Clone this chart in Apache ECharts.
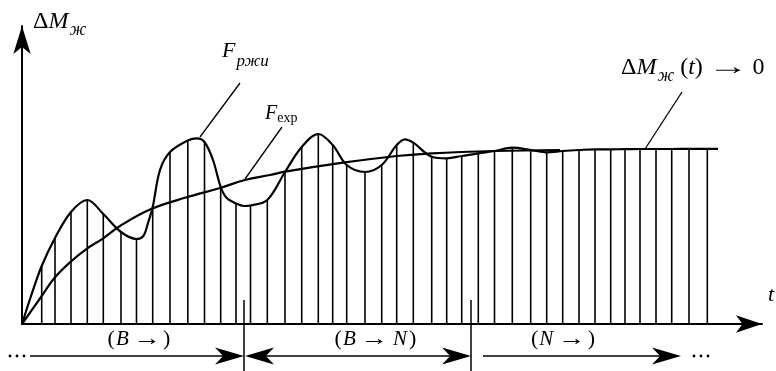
<!DOCTYPE html>
<html>
<head>
<meta charset="utf-8">
<script src="https://cdn.jsdelivr.net/npm/echarts@6/dist/echarts.min.js"></script>
<style>
  html, body { margin: 0; padding: 0; background: #fff; }
  #c { width: 776px; height: 371px; }
</style>
</head>
<body>
<div id="c"></div>
<script>
// Sampling instants (t) and the ripple curve F_ржи value at each sampling stroke
const stripT = [19.7, 33, 49, 65.3, 81.3, 99, 114.5, 130.7, 148, 165.8, 182.5, 198.7, 214, 228.5,
  245.3, 263, 279.7, 296.3, 310.7, 324.7, 343, 359.7, 374.7, 391.3, 409.7, 424.7, 439.7, 456.3,
  472.5, 490.3, 508.7, 524.7, 540.7, 557, 573, 588.7, 603, 618, 634, 649.7, 667, 685.3];
const stripF = [58, 86, 112, 124, 110, 92, 85, 117, 172, 183.5, 182, 137, 120.5, 118.5,
  124, 152, 177, 190, 179, 159, 152, 159, 179, 181.3, 167.3, 165.7, 168, 170.7,
  173, 176.3, 174, 171.7, 173, 174, 174.7, 174.7, 174.8, 175, 175, 175, 175.2, 175.2];

// Extra knots of F_ржи between strokes: start, crests, troughs and end
const rippleExtraT = [0, 9.7, 121.3, 126, 138, 174.7, 191, 204.7, 222, 383, 696];
const rippleExtraF = [0, 30, 88, 101, 154, 185.7, 164, 126, 118, 184.7, 175.2];

// Exponential envelope F_exp
const expT = [0, 19.7, 33, 48.7, 65.3, 81.3, 98, 128, 164.7, 198, 223, 248, 263, 321, 374.7, 409.7, 473, 538];
const expF = [0, 28, 46.7, 62.3, 75.7, 85.7, 98, 114.5, 126.7, 136, 144, 149, 152.3, 161.3, 168, 170.7, 173, 174];

// Phase boundaries on the time axis and the phase captions
const phaseBounds = [222, 449];
const phaseLabels = [['B', ''], ['B', 'N'], ['N', '']];

// Leader lines from the curve labels to the curves
const leaderRipple = [[178, 187], [218, 241]];
const leaderExp = [[223, 145], [260, 197]];
const leaderLimit = [[623, 175], [660, 232]];

const INK = '#000';
const SERIF = '"Liberation Serif", "DejaVu Serif", serif';

function zip(a, b) { return a.map((v, i) => [v, b[i]]); }

const rippleData = zip(stripT, stripF).concat(zip(rippleExtraT, rippleExtraF))
  .sort((p, q) => p[0] - q[0]);
const strokeData = zip(stripT, stripF);

const chart = echarts.init(document.getElementById('c'), null, { renderer: 'canvas' });

function leader(data) {
  return { type: 'line', data: data, symbol: 'none', silent: true,
    lineStyle: { color: INK, width: 1.3 }, z: 4 };
}

chart.setOption({
  animation: false,
  backgroundColor: '#fff',
  grid: { left: 22, right: 14, top: 26, bottom: 47, containLabel: false },
  xAxis: {
    type: 'value', min: 0, max: 740,
    axisLine: { show: true, onZero: false, symbol: ['none', 'arrow'], symbolSize: [13, 26],
      lineStyle: { color: '#000', width: 2 } },
    axisTick: { show: false }, axisLabel: { show: false }, splitLine: { show: false }
  },
  yAxis: {
    type: 'value', min: 0, max: 298,
    axisLine: { show: true, onZero: false, symbol: ['none', 'arrow'], symbolSize: [13, 28],
      lineStyle: { color: '#000', width: 2 } },
    axisTick: { show: false }, axisLabel: { show: false }, splitLine: { show: false }
  },
  series: [
    {
      // sampling strokes from the time axis up to F_ржи
      type: 'custom',
      data: strokeData,
      silent: true,
      z: 2,
      renderItem: function (params, api) {
        const p0 = api.coord([api.value(0), 0]);
        const p1 = api.coord([api.value(0), api.value(1)]);
        return { type: 'line', shape: { x1: p0[0], y1: p0[1], x2: p1[0], y2: p1[1] },
          style: { stroke: INK, lineWidth: 1.6 } };
      }
    },
    {
      type: 'line', name: 'F_ржи', data: rippleData, smooth: 0.35, symbol: 'none',
      silent: true, lineStyle: { color: INK, width: 2.2 }, z: 3
    },
    {
      type: 'line', name: 'F_exp', data: zip(expT, expF), smooth: 0.4, symbol: 'none',
      silent: true, lineStyle: { color: INK, width: 2.2 }, z: 3
    },
    leader(leaderRipple),
    leader(leaderExp),
    leader(leaderLimit)
  ]
});

// ---- annotations: axis titles, curve labels and the phase arrows ----
const measureCtx = document.createElement('canvas').getContext('2d');
function fontOf(p) {
  return (p.it ? 'italic ' : '') + p.size + 'px ' + SERIF;
}
// Lays out a run of text pieces on a common baseline, left to right.
// Piece fields: t text, size, it italic, dy baseline shift, gap space before, sx horizontal stretch.
function run(x, baseline, pieces, out) {
  let cx = x;
  pieces.forEach(p => {
    cx += p.gap || 0;
    measureCtx.font = fontOf(p);
    const w = measureCtx.measureText(p.t).width * (p.sx || 1);
    out.push({ type: 'text', x: cx, y: baseline + (p.dy || 0) - 0.32 * p.size,
      scaleX: p.sx || 1, silent: true, z: 10,
      style: { text: p.t, fontFamily: SERIF, fontSize: p.size,
        fontStyle: p.it ? 'italic' : 'normal', fill: INK, align: 'left', verticalAlign: 'middle' } });
    cx += w;
  });
  return cx - x;
}
function runWidth(pieces) {
  let w = 0;
  pieces.forEach(p => {
    measureCtx.font = fontOf(p);
    w += (p.gap || 0) + measureCtx.measureText(p.t).width * (p.sx || 1);
  });
  return w;
}
function head(tipX, y, dir) {
  const L = 29, W = 17;
  return { type: 'polygon', silent: true, z: 10,
    shape: { points: [[tipX, y], [tipX - dir * L, y - W / 2], [tipX - dir * 0.72 * L, y], [tipX - dir * L, y + W / 2]] },
    style: { fill: '#000' } };
}
function seg(x1, y1, x2, y2, w) {
  return { type: 'line', silent: true, z: 10,
    shape: { x1: x1, y1: y1, x2: x2, y2: y2 }, style: { stroke: '#000', lineWidth: w || 1.7 } };
}
function dots(x0, y, out) {
  for (let k = 0; k < 3; k++) {
    out.push({ type: 'circle', silent: true, z: 10, shape: { cx: x0 + k * 7, cy: y, r: 1.4 },
      style: { fill: '#000' } });
  }
}

const toPx = t => chart.convertToPixel({ gridIndex: 0 }, [t, 0])[0];
const b1 = toPx(phaseBounds[0]);
const b2 = toPx(phaseBounds[1]);
const arrowY = 356;
const labelBase = 352;
const g = [];

// axis titles
run(33, 29, [{ t: 'Δ', size: 24 }, { t: 'M', size: 24, it: true },
  { t: 'ж', size: 18, it: true, dy: 7, gap: 1 }], g);
run(768, 302, [{ t: 't', size: 22, it: true }], g);

// curve labels
run(222, 58, [{ t: 'F', size: 22, it: true }, { t: 'ржи', size: 17, it: true, dy: 9, gap: 1 }], g);
run(265, 120, [{ t: 'F', size: 20, it: true }, { t: 'exp', size: 14, dy: 3, gap: 0 }], g);
run(621, 75, [{ t: 'Δ', size: 24 }, { t: 'M', size: 24, it: true },
  { t: 'ж', size: 18, it: true, dy: 7, gap: 1 },
  { t: '(', size: 24, gap: 6 }, { t: 't', size: 24, it: true }, { t: ')', size: 24 },
  { t: '→', size: 24, gap: 5, sx: 1.7 }, { t: '0', size: 24, gap: 4 }], g);

// phase arrows
dots(10, arrowY, g);
g.push(seg(30, arrowY, b1 - 12, arrowY));
g.push(head(b1, arrowY, 1));
g.push(seg(b1 + 12, arrowY, b2 - 12, arrowY));
g.push(head(b1 + 1, arrowY, -1));
g.push(head(b2, arrowY, 1));
g.push(seg(b2 + 12, arrowY, b2 + 198, arrowY));
g.push(head(b2 + 210, arrowY, 1));
dots(b2 + 223, arrowY, g);
g.push(seg(b1, 300, b1, 371, 1.5));
g.push(seg(b2, 300, b2, 371, 1.5));

// phase captions
const mids = [(toPx(0) + b1) / 2 + 6, (b1 + b2) / 2 + 18, b2 + 92];
phaseLabels.forEach((pl, i) => {
  const pieces = [{ t: '(', size: 22 }, { t: pl[0], size: 21, it: true, gap: 1 },
    { t: '→', size: 21, gap: 5, sx: 1.3 }];
  if (pl[1]) pieces.push({ t: pl[1], size: 21, it: true, gap: 5 });
  pieces.push({ t: ')', size: 22, gap: 2 });
  const w = runWidth(pieces);
  run(mids[i] - w / 2, labelBase - 6, pieces, g);
});

chart.setOption({ graphic: g });
</script>
</body>
</html>
